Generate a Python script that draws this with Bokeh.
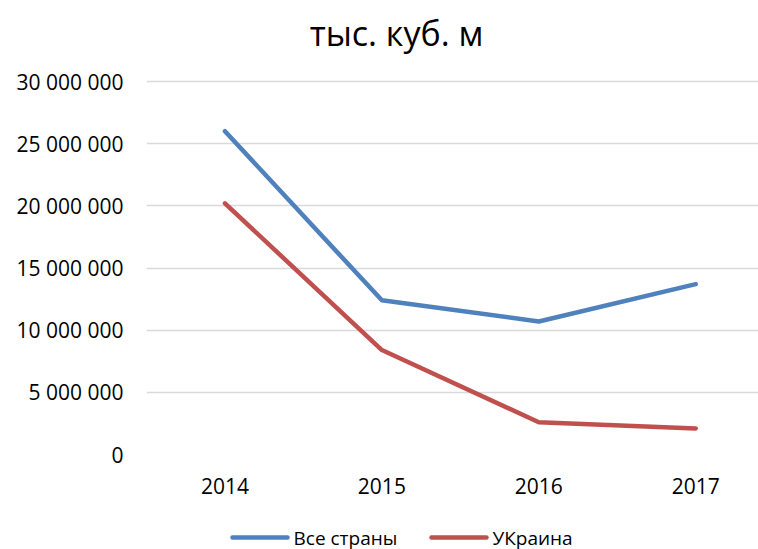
from bokeh.plotting import figure
from bokeh.layouts import column
from bokeh.models import Range1d, FixedTicker, Label
from bokeh.core.properties import value
from bokeh.embed import file_html
from bokeh.resources import INLINE

years = [2014, 2015, 2016, 2017]
all_countries = [26000000, 12400000, 10700000, 13700000]
ukraine = [20200000, 8400000, 2600000, 2100000]
y_ticks = [0, 5000000, 10000000, 15000000, 20000000, 25000000, 30000000]
series_names = ["Все страны", "УКраина"]
title_text = "тыс. куб. м"

FONT = "Open Sans"
BLUE = "#4F81BD"
RED = "#C0504D"
colors = [BLUE, RED]

# layout: frame spans from canvas top to the x axis; the top 30 000 000 line sits 81px below the top
FRAME_L = 146
FRAME_W = 612
FRAME_H = 454
TOP_GAP = 81
y_end = y_ticks[-1] * FRAME_H / (FRAME_H - TOP_GAP)

p = figure(frame_width=FRAME_W, frame_height=FRAME_H, output_backend="svg", toolbar_location=None,
           title=None,
           x_range=Range1d(2013.5, 2017.4), y_range=Range1d(0, y_end),
           min_border_left=FRAME_L, min_border_right=0, min_border_top=0, min_border_bottom=56)
p.outline_line_color = None
p.background_fill_color = "white"
p.border_fill_color = "white"

title = Label(x=250, y=FRAME_H - 32, x_units="screen", y_units="screen", text=title_text,
              text_align="center", text_baseline="middle", text_font=FONT,
              text_font_size="34px", text_color="#000000")
p.add_layout(title)

for vals, c in zip([all_countries, ukraine], colors):
    p.line(years, vals, line_color=c, line_width=4.5, line_cap="round", line_join="round")

p.xaxis.ticker = FixedTicker(ticks=years)
p.xaxis.major_label_overrides = {y: str(y) for y in years}
p.yaxis.ticker = FixedTicker(ticks=y_ticks)
p.yaxis.major_label_overrides = {v: f"{v:,}".replace(",", " ") for v in y_ticks}

for ax in (p.xaxis[0], p.yaxis[0]):
    ax.axis_line_color = None
    ax.major_tick_line_color = None
    ax.minor_tick_line_color = None
    ax.major_label_text_font = FONT
    ax.major_label_text_font_size = "21px"
    ax.major_label_text_color = "#000000"
p.yaxis.major_label_standoff = 17
p.xaxis.major_label_standoff = 17

p.xgrid.grid_line_color = None
p.ygrid.grid_line_color = "#D9D9D9"
p.ygrid.grid_line_width = 1.5

# legend strip below the chart; its frame is aligned with the main frame,
# so its x range is expressed in page pixels starting at the frame's left edge
LG_W, LG_H = 758, 39
lg = figure(frame_width=FRAME_W, frame_height=LG_H, output_backend="svg", toolbar_location=None,
            title=None, x_axis_type=None, y_axis_type=None,
            x_range=Range1d(FRAME_L, LG_W), y_range=Range1d(0, LG_H),
            min_border_left=FRAME_L, min_border_right=0, min_border_top=0, min_border_bottom=0)
lg.outline_line_color = None
lg.background_fill_color = "white"
lg.border_fill_color = "white"

swatch_x0 = [232, 431]
swatch_w = 55
text_gap = 6
row_y = 12
lg.segment(x0=swatch_x0, y0=[row_y] * 2, x1=[x + swatch_w for x in swatch_x0], y1=[row_y] * 2,
           line_color=colors, line_width=4.5, line_cap="round")
lg.text(x=[x + swatch_w + text_gap for x in swatch_x0], y=[row_y] * 2, text=series_names,
        text_font=value(FONT), text_font_size="19px", text_color="#000000",
        text_align="left", text_baseline="middle")

layout = column(p, lg, spacing=0)
open("out.html", "w").write(file_html(layout, INLINE))
